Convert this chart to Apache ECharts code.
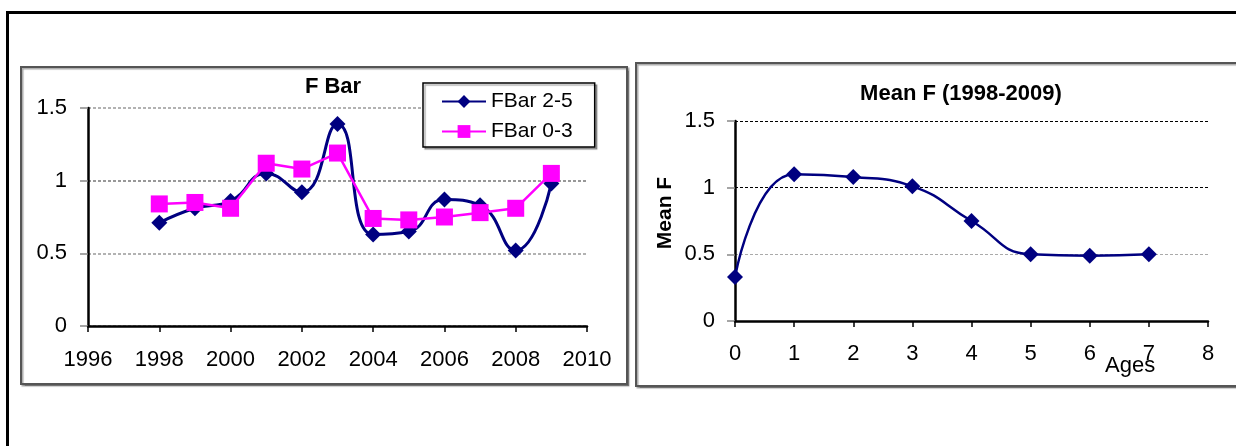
<!DOCTYPE html>
<html>
<head>
<meta charset="utf-8">
<script src="https://cdn.jsdelivr.net/npm/echarts@6/dist/echarts.min.js"></script>
<style>
html,body{margin:0;padding:0;background:#fff;}
#c{width:1236px;height:446px;}
</style>
</head>
<body>
<div id="c"></div>
<script>
// ---- data ----
var years = [1998,1999,2000,2001,2002,2003,2004,2005,2006,2007,2008,2009];
var fbar25 = [0.71,0.81,0.86,1.05,0.92,1.39,0.63,0.65,0.87,0.83,0.52,0.98];
var fbar03 = [0.84,0.85,0.81,1.12,1.08,1.19,0.74,0.73,0.75,0.78,0.81,1.05];
var ages = [0,1,2,3,4,5,6,7];
var meanF = [0.33,1.10,1.08,1.01,0.75,0.50,0.49,0.50];
var yTicks = [0,0.5,1,1.5];

var FONT = 'Liberation Sans, Arial, sans-serif';

function pairs(xs, ys){ return xs.map(function(x,i){ return [x, ys[i]]; }); }

var chart = echarts.init(document.getElementById('c'), null, {renderer:'canvas'});

var axisLbl = {color:'#000', fontSize:22, fontFamily:FONT};

var option = {
  backgroundColor:'#fff',
  animation:false,
  graphic:[
    {type:'rect', shape:{x:7.5,y:12.5,width:1240,height:440}, style:{fill:'none',stroke:'#000',lineWidth:3}, z:-10},
    {type:'rect', shape:{x:21,y:67,width:606,height:317}, style:{fill:'#fff',stroke:'#555',lineWidth:2, shadowColor:'rgba(0,0,0,0.35)',shadowOffsetX:1.5,shadowOffsetY:1.5,shadowBlur:1}, z:-9},
    {type:'rect', shape:{x:636,y:63,width:610,height:323}, style:{fill:'#fff',stroke:'#555',lineWidth:2, shadowColor:'rgba(0,0,0,0.35)',shadowOffsetX:1.5,shadowOffsetY:1.5,shadowBlur:1}, z:-9},
    {type:'text', x:333, y:87, style:{text:'F Bar', font:'bold 22px '+FONT, fill:'#000', textAlign:'center', textVerticalAlign:'middle'}},
    {type:'text', x:961, y:94, style:{text:'Mean F (1998-2009)', font:'bold 22px '+FONT, fill:'#000', textAlign:'center', textVerticalAlign:'middle'}},
    {type:'text', x:665, y:213, rotation:Math.PI/2, style:{text:'Mean F', font:'bold 21px '+FONT, fill:'#000', textAlign:'center', textVerticalAlign:'middle'}},
    {type:'text', x:1105, y:366, style:{text:'Ages', font:'22px '+FONT, fill:'#000', textAlign:'left', textVerticalAlign:'middle'}}
  ],
  legend:{
    data:['FBar 2-5','FBar 0-3'],
    orient:'vertical',
    left:423, top:83,
    itemWidth:44, itemHeight:16, itemGap:7,
    padding:[7,22,4,18],
    borderColor:'#000', borderWidth:1.5,
    backgroundColor:'#fff',
    shadowColor:'rgba(0,0,0,0.3)', shadowOffsetX:2, shadowOffsetY:2, shadowBlur:1,
    textStyle:{color:'#000', fontSize:21, fontFamily:FONT, lineHeight:23, padding:[0,0,0,0]},
    selectedMode:false
  },
  grid:[
    {left:88, top:108, width:499, height:218, outerBoundsMode:'none', containLabel:false},
    {left:735, top:121, width:473, height:200, outerBoundsMode:'none', containLabel:false}
  ],
  xAxis:[
    {type:'value', gridIndex:0, min:1996, max:2010, interval:2,
     axisLine:{show:true, onZero:false, lineStyle:{color:'#000', width:2.5}},
     axisTick:{show:true, length:6, lineStyle:{color:'#000', width:1.5}},
     axisLabel:Object.assign({margin:23, formatter:function(v){return String(v);}}, axisLbl),
     splitLine:{show:false}},
    {type:'value', gridIndex:1, min:0, max:8, interval:1,
     axisLine:{show:true, onZero:false, lineStyle:{color:'#000', width:2.5}},
     axisTick:{show:true, length:6, lineStyle:{color:'#000', width:1.5}},
     axisLabel:Object.assign({margin:22}, axisLbl),
     splitLine:{show:false}}
  ],
  yAxis:[
    {type:'value', gridIndex:0, min:yTicks[0], max:yTicks[yTicks.length-1], interval:0.5,
     axisLine:{show:true, lineStyle:{color:'#000', width:2.5}},
     axisTick:{show:true, length:8, lineStyle:{color:'#888', width:1.5}},
     axisLabel:Object.assign({margin:21}, axisLbl),
     splitLine:{show:true, lineStyle:{color:['#999','#999','#777','#999'], width:1.5, type:[3,2]}}},
    {type:'value', gridIndex:1, min:yTicks[0], max:yTicks[yTicks.length-1], interval:0.5,
     axisLine:{show:true, lineStyle:{color:'#000', width:2.5}},
     axisTick:{show:true, length:8, lineStyle:{color:'#888', width:1.5}},
     axisLabel:Object.assign({margin:20}, axisLbl),
     splitLine:{show:true, lineStyle:{color:['#000','#aaa','#000','#000'], width:1.2, type:[3,2]}}}
  ],
  series:[
    {name:'FBar 2-5', type:'line', xAxisIndex:0, yAxisIndex:0, data:pairs(years,fbar25),
     smooth:0.5, symbol:'diamond', symbolSize:16, lineStyle:{color:'#000080', width:3},
     itemStyle:{color:'#000080'}, z:3},
    {name:'FBar 0-3', type:'line', xAxisIndex:0, yAxisIndex:0, data:pairs(years,fbar03),
     smooth:false, symbol:'rect', symbolSize:17, lineStyle:{color:'#ff00ff', width:2.5},
     itemStyle:{color:'#ff00ff'}, z:4},
    {name:'Mean F', type:'line', xAxisIndex:1, yAxisIndex:1, data:pairs(ages,meanF),
     smooth:0.5, symbol:'diamond', symbolSize:16, lineStyle:{color:'#000080', width:2.5},
     itemStyle:{color:'#000080'}}
  ]
};
chart.setOption(option);
</script>
</body>
</html>
